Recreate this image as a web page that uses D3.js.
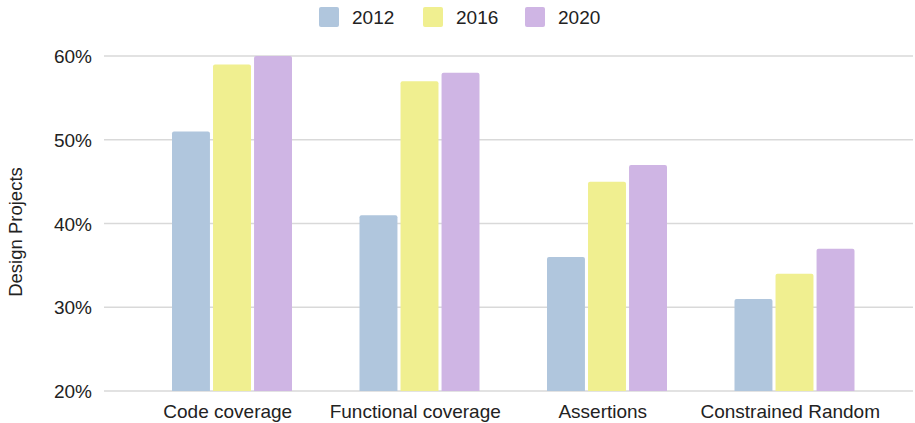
<!DOCTYPE html>
<html>
<head>
<meta charset="utf-8">
<script src="https://cdn.jsdelivr.net/npm/d3@7"></script>
<style>
  body { margin: 0; background: #fff; }
  text { font-family: "Liberation Sans", Arial, sans-serif; fill: #222; }
</style>
</head>
<body>
<div id="chart"></div>
<script>
// data
const categories = ["Code coverage", "Functional coverage", "Assertions", "Constrained Random"];
const years = ["2012", "2016", "2020"];
const values2012 = [51, 41, 36, 31];
const values2016 = [59, 57, 45, 34];
const values2020 = [60, 58, 47, 37];
const yTicks = [20, 30, 40, 50, 60];
const colors = ["#b0c6dd", "#f0ef90", "#cfb5e4"];

const series = [values2012, values2016, values2020];

const W = 915, H = 423;
const plot = { left: 104, right: 913, top: 56, bottom: 391 };

const svg = d3.select("#chart").append("svg")
    .attr("width", W)
    .attr("height", H);

// scales
const y = d3.scaleLinear()
    .domain([20, 60])
    .range([plot.bottom, plot.top]);

const x0 = d3.scaleBand()
    .domain(categories)
    .range([137, 887]);

const x1 = d3.scaleBand()
    .domain(years)
    .range([35, 155])
    .paddingInner(0.075);

// gridlines
svg.append("g")
    .selectAll("line")
    .data(yTicks)
    .enter()
    .append("line")
    .attr("x1", plot.left)
    .attr("x2", plot.right)
    .attr("y1", d => y(d))
    .attr("y2", d => y(d))
    .attr("stroke", "#d9d9d9")
    .attr("stroke-width", 1.5);

// y tick labels
svg.append("g")
    .selectAll("text")
    .data(yTicks)
    .enter()
    .append("text")
    .attr("x", 92)
    .attr("y", d => y(d) + 7)
    .attr("text-anchor", "end")
    .style("font-size", "19px")
    .text(d => d + "%");

// y title
svg.append("text")
    .attr("transform", "translate(22,232) rotate(-90)")
    .attr("text-anchor", "middle")
    .style("font-size", "18.5px")
    .text("Design Projects");

// bars
const groups = svg.append("g")
    .selectAll("g")
    .data(categories)
    .enter()
    .append("g")
    .attr("transform", d => "translate(" + x0(d) + ",0)");

groups.selectAll("path")
    .data((c, i) => years.map((yr, j) => ({ year: yr, value: series[j][i], color: colors[j] })))
    .enter()
    .append("path")
    .attr("fill", d => d.color)
    .attr("d", d => {
        const bx = x1(d.year), bw = x1.bandwidth();
        const top = y(d.value), bot = y(20), r = 2;
        return "M" + bx + "," + bot +
            "V" + (top + r) +
            "Q" + bx + "," + top + " " + (bx + r) + "," + top +
            "H" + (bx + bw - r) +
            "Q" + (bx + bw) + "," + top + " " + (bx + bw) + "," + (top + r) +
            "V" + bot + "Z";
    });

// x labels (sit a touch left of the bar groups)
svg.append("g")
    .selectAll("text")
    .data(categories)
    .enter()
    .append("text")
    .attr("x", d => x0(d) + x0.bandwidth() / 2 - 3)
    .attr("y", 418)
    .attr("text-anchor", "middle")
    .style("font-size", "19px")
    .text(d => d);

// legend
const legendX = [319, 423, 525];
const legend = svg.append("g")
    .selectAll("g")
    .data(years)
    .enter()
    .append("g")
    .attr("transform", (d, i) => "translate(" + legendX[i] + ",7)");

legend.append("rect")
    .attr("width", 20)
    .attr("height", 20)
    .attr("rx", 2)
    .attr("fill", (d, i) => colors[i]);

legend.append("text")
    .attr("x", 33)
    .attr("y", 17)
    .style("font-size", "19px")
    .text(d => d);
</script>
</body>
</html>
